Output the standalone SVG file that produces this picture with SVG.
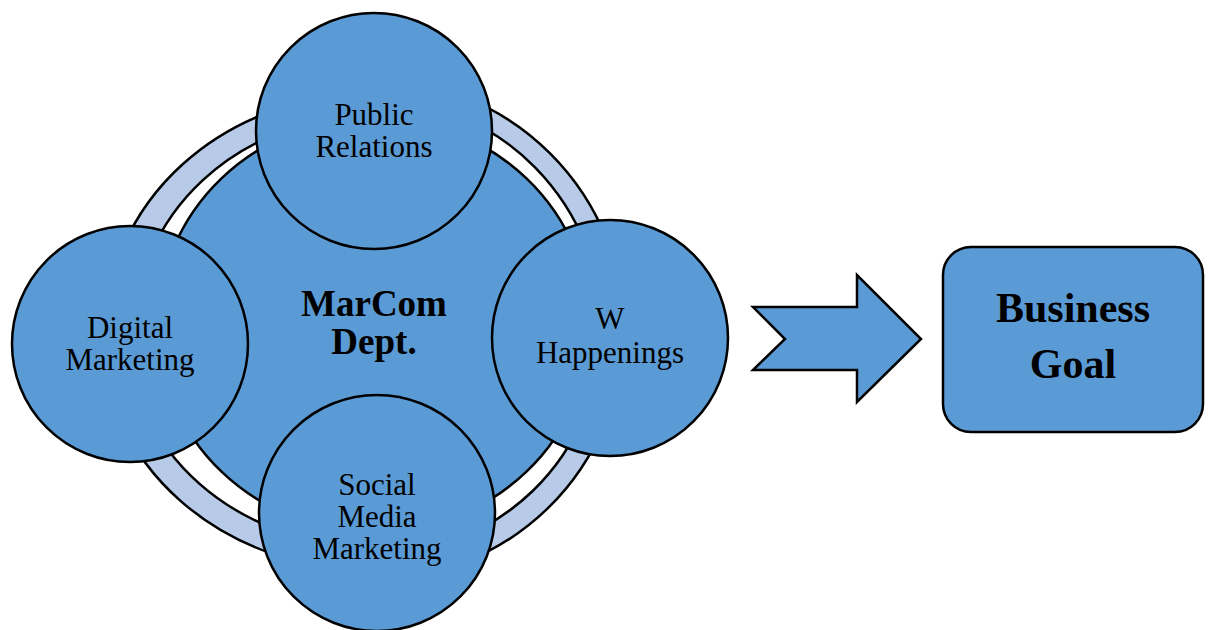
<svg xmlns="http://www.w3.org/2000/svg" width="1208" height="630" viewBox="0 0 1208 630">
  <style>
    .node { fill: #5B9BD5; stroke: #000; stroke-width: 2.5; }
    .band { fill: #B7CBE8; stroke: #000; stroke-width: 2.5; fill-rule: evenodd; }
    .lbl { font-family: "Liberation Serif", "Times New Roman", serif; font-size: 31px; fill: #000; text-anchor: middle; }
    .hub { font-family: "Liberation Serif", "Times New Roman", serif; font-size: 37px; font-weight: bold; fill: #000; text-anchor: middle; }
    .goal { font-family: "Liberation Serif", "Times New Roman", serif; font-size: 42px; font-weight: bold; fill: #000; text-anchor: middle; }
  </style>
  <rect width="1208" height="630" fill="#fff"/>

  <!-- outer ring behind the hub; seams between quarter arcs sit under the satellites -->
  <g id="ring">
    <path class="band" d="M105,334 A265,240 0 0 1 370,94 L370,79 A255,255 0 0 1 625,334 L622,334 A252,246 0 0 1 370,580 L370,570 A268,236 0 0 1 102,334 Z
                          M134,334 A236,218 0 0 1 370,116 L370,98 A233,236 0 0 1 603,334 L600,334 A230,222 0 0 1 370,556 L370,546 A241,212 0 0 1 129,334 Z"/>
  </g>

  <g id="hub">
    <ellipse class="node" cx="374" cy="325" rx="216" ry="207"/>
    <text class="hub" x="374" y="316">MarCom</text>
    <text class="hub" x="374" y="354">Dept.</text>
  </g>

  <g id="public-relations">
    <circle class="node" cx="374" cy="131" r="118"/>
    <text class="lbl" x="374" y="125">Public</text>
    <text class="lbl" x="374" y="157">Relations</text>
  </g>

  <g id="w-happenings">
    <circle class="node" cx="610" cy="338" r="118"/>
    <text class="lbl" x="610" y="329">W</text>
    <text class="lbl" x="610" y="363">Happenings</text>
  </g>

  <g id="social-media-marketing">
    <circle class="node" cx="377" cy="513" r="118"/>
    <text class="lbl" x="377" y="495">Social</text>
    <text class="lbl" x="377" y="527">Media</text>
    <text class="lbl" x="377" y="559">Marketing</text>
  </g>

  <g id="digital-marketing">
    <circle class="node" cx="130" cy="344" r="118"/>
    <text class="lbl" x="130" y="338">Digital</text>
    <text class="lbl" x="130" y="370">Marketing</text>
  </g>

  <g id="connectors">
    <polygon class="node" stroke-width="2.2" points="753,307 857,307 857,275 921,339 857,402 857,370 753,370 785,339"/>
  </g>

  <g id="business-goal">
    <rect class="node" x="943" y="247" width="260" height="185" rx="28" ry="28"/>
    <text class="goal" x="1073" y="322">Business</text>
    <text class="goal" x="1073" y="378">Goal</text>
  </g>
</svg>
